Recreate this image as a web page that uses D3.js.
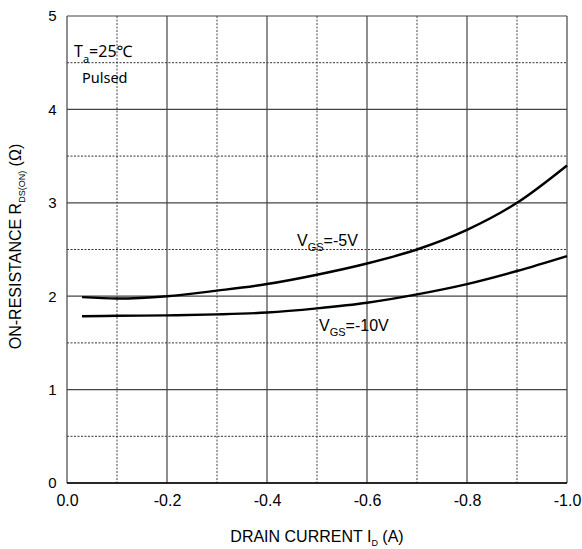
<!DOCTYPE html>
<html><head><meta charset="utf-8">
<script src="https://cdn.jsdelivr.net/npm/d3@7"></script>
<style>body{margin:0;background:#fff}</style>
</head><body>
<svg id="c" width="582" height="549"></svg>
<script>
const currentA = [0.03, 0.1, 0.2, 0.3, 0.4, 0.5, 0.6, 0.7, 0.8, 0.9, 1.0];
const rVgs5 = [1.99, 1.975, 2.0, 2.06, 2.13, 2.23, 2.35, 2.5, 2.71, 3.0, 3.4];
const rVgs10 = [1.785, 1.79, 1.795, 1.805, 1.825, 1.87, 1.93, 2.02, 2.13, 2.27, 2.43];
const xTicks = [0, 0.2, 0.4, 0.6, 0.8, 1.0];
const xTickLabels = ["0.0", "-0.2", "-0.4", "-0.6", "-0.8", "-1.0"];
const yTicks = [0, 1, 2, 3, 4, 5];

const L = 67, R = 567, T = 16, B = 483;
const svg = d3.select("#c");
const x = d3.scaleLinear().domain([0, 1]).range([L, R]);
const y = d3.scaleLinear().domain([0, 5]).range([B, T]);
const f = "'Liberation Sans', Arial, sans-serif";
const nf = "'Noto Sans', sans-serif";

// dotted minor grid
const g = svg.append("g");
d3.range(0.1, 1, 0.2).forEach(v => g.append("line").attr("x1", x(v)).attr("x2", x(v)).attr("y1", T).attr("y2", B)
  .attr("stroke", "#666").attr("stroke-width", 1.2).attr("stroke-dasharray", "2,1.5"));
d3.range(0.5, 5, 1).forEach(v => g.append("line").attr("x1", L).attr("x2", R).attr("y1", y(v)).attr("y2", y(v))
  .attr("stroke", "#333").attr("stroke-width", 1).attr("stroke-dasharray", "2,1.5"));
// solid major grid
xTicks.forEach(v => g.append("line").attr("x1", x(v)).attr("x2", x(v)).attr("y1", T).attr("y2", B)
  .attr("stroke", "#444").attr("stroke-width", 1.2));
yTicks.forEach(v => g.append("line").attr("x1", L).attr("x2", R).attr("y1", y(v)).attr("y2", y(v))
  .attr("stroke", "#444").attr("stroke-width", 1.2));
g.append("line").attr("x1", L).attr("x2", R).attr("y1", B).attr("y2", B).attr("stroke", "#000").attr("stroke-width", 1.5);

// axes labels
const xAxis = d3.axisBottom(x).tickValues(xTicks).tickFormat((d, i) => xTickLabels[i]).tickSize(0).tickPadding(12);
const xa = svg.append("g").attr("transform", `translate(0,${B})`).call(xAxis);
xa.attr("font-family", null);
xa.select(".domain").remove();
xa.selectAll("text").style("font-family", f).style("font-size", "16px").attr("fill", "#000");
const yAxis = d3.axisLeft(y).tickValues(yTicks).tickFormat(d3.format("d")).tickSize(0).tickPadding(10.5);
const ya = svg.append("g").attr("transform", `translate(${L},0)`).call(yAxis);
ya.select(".domain").remove();
ya.selectAll("text").style("font-family", f).style("font-size", "15px").attr("fill", "#000");

// curves
const line = d3.line().x((d, i) => x(currentA[i])).y(d => y(d)).curve(d3.curveMonotoneX);
[rVgs5, rVgs10].forEach(s => svg.append("path").attr("d", line(s)).attr("fill", "none")
  .attr("stroke", "#000").attr("stroke-width", 2.4));

// text
function sub(el, main, subs, rest, subSize, dy) {
  el.append("tspan").text(main);
  el.append("tspan").text(subs).style("font-size", subSize + "px").attr("dy", dy);
  el.append("tspan").text(rest).attr("dy", -dy);
  return el;
}
function txt(xp, yp, family, size) {
  return svg.append("text").attr("x", xp).attr("y", yp).style("font-family", family).style("font-size", size + "px").attr("fill", "#000");
}
sub(txt(74, 57, nf, 16), "T", "a", "=25℃", 11, 6);
txt(82, 83, nf, 14.5).text("Pulsed");
sub(txt(297, 246, f, 16), "V", "GS", "=-5V", 11, 5);
sub(txt(319, 331, f, 16), "V", "GS", "=-10V", 11, 5);

sub(txt(317, 542, f, 16).attr("text-anchor", "middle"), "DRAIN CURRENT I", "D", " (A)", 9, 4);
sub(svg.append("text").attr("transform", "translate(21,246.5) rotate(-90)").attr("text-anchor", "middle")
  .style("font-family", f).style("font-size", "16px"), "ON-RESISTANCE R", "DS(ON)", " (Ω)", 9, 4);
</script>
</body></html>
